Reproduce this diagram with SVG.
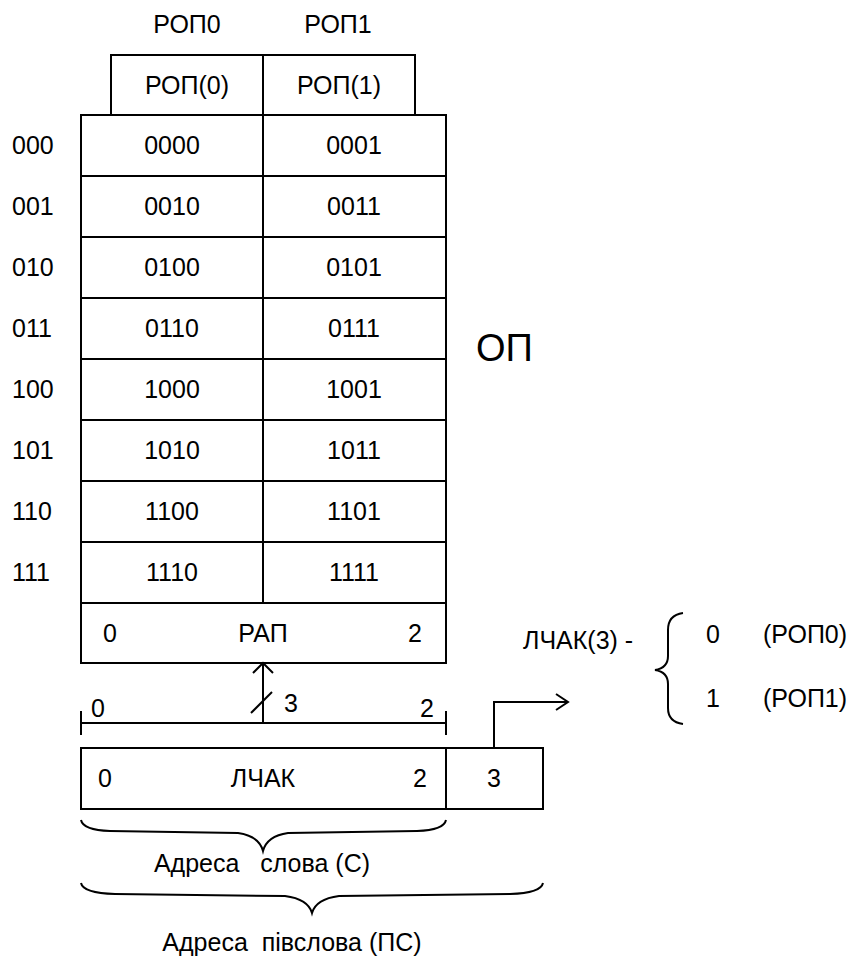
<svg xmlns="http://www.w3.org/2000/svg" width="855" height="959" viewBox="0 0 855 959">
<style>
text{font-family:"Liberation Sans",Arial,sans-serif;font-size:25px;fill:#000;white-space:pre}
.m{text-anchor:middle}
.ln{fill:none;stroke:#000;stroke-width:2}
.box{fill:#fff;stroke:#000;stroke-width:2}
</style>
<rect width="855" height="959" fill="#fff"/>
<g id="headers">
<text class="m" x="187" y="33">РОП0</text>
<text class="m" x="338" y="33">РОП1</text>
</g>
<g id="rop-box">
<rect class="box" x="111" y="55" width="304" height="60"/>
<line class="ln" x1="263" y1="55" x2="263" y2="115"/>
<text class="m" x="187" y="94">РОП(0)</text>
<text class="m" x="339" y="94">РОП(1)</text>
</g>
<g id="memory">
<rect class="box" x="81" y="115" width="365" height="488"/>
<line class="ln" x1="263" y1="115" x2="263" y2="603"/>
<path class="ln" d="M81 176H446M81 237H446M81 298H446M81 359H446M81 420H446M81 481H446M81 542H446"/>
<text class="m" x="172" y="154">0000</text><text class="m" x="354" y="154">0001</text>
<text class="m" x="172" y="215">0010</text><text class="m" x="354" y="215">0011</text>
<text class="m" x="172" y="276">0100</text><text class="m" x="354" y="276">0101</text>
<text class="m" x="172" y="337">0110</text><text class="m" x="354" y="337">0111</text>
<text class="m" x="172" y="398">1000</text><text class="m" x="354" y="398">1001</text>
<text class="m" x="172" y="459">1010</text><text class="m" x="354" y="459">1011</text>
<text class="m" x="172" y="520">1100</text><text class="m" x="354" y="520">1101</text>
<text class="m" x="172" y="581">1110</text><text class="m" x="354" y="581">1111</text>
</g>
<g id="row-labels">
<text x="12" y="154">000</text>
<text x="12" y="215">001</text>
<text x="12" y="276">010</text>
<text x="12" y="337">011</text>
<text x="12" y="398">100</text>
<text x="12" y="459">101</text>
<text x="12" y="520">110</text>
<text x="12" y="581">111</text>
</g>
<g id="op-label">
<text x="476" y="361" style="font-size:38px">ОП</text>
</g>
<g id="rap">
<rect class="box" x="81" y="603" width="365" height="60"/>
<text class="m" x="110" y="642">0</text>
<text class="m" x="263" y="642">РАП</text>
<text class="m" x="415" y="642">2</text>
</g>
<g id="lchak">
<rect class="box" x="81" y="748" width="365" height="61"/>
<text class="m" x="105" y="787">0</text>
<text class="m" x="263" y="787">ЛЧАК</text>
<text class="m" x="420" y="787">2</text>
</g>
<g id="bit3">
<rect class="box" x="446" y="748" width="97" height="61"/>
<text class="m" x="494" y="787">3</text>
</g>
<g id="bus">
<path class="ln" d="M81 723H446M81 711V735M446 711V735"/>
<text class="m" x="98" y="717">0</text>
<text class="m" x="427" y="717">2</text>
<text x="284" y="712">3</text>
</g>
<g id="connectors">
<path class="ln" d="M263 723V664M253 673L263 663L273 673"/>
<path class="ln" d="M251 713L272 692"/>
<path class="ln" d="M494 748V702H567M556 694L568 702L556 710"/>
</g>
<g id="lchak3-legend">
<text x="523" y="649">ЛЧАК(3) -</text>
<path class="ln" d="M683 613Q668 615 668 630L668 656Q668 668 655 670Q668 672 668 684L668 708Q668 722 683 724"/>
<text class="m" x="713" y="643">0</text>
<text class="m" x="713" y="707">1</text>
<text x="763" y="643">(РОП0)</text>
<text x="763" y="707">(РОП1)</text>
</g>
<g id="brace-word">
<path class="ln" d="M81 820Q83 830 110 831L238 833Q259 836 263 851Q267 836 288 833L417 831Q444 830 446 820"/>
<text class="m" x="262" y="872">Адреса   слова (С)</text>
</g>
<g id="brace-halfword">
<path class="ln" d="M81 883Q83 893 115 894L285 896Q308 899 312 913Q316 899 339 896L510 894Q541 893 543 883"/>
<text class="m" x="292" y="951">Адреса  півслова (ПС)</text>
</g>
</svg>
